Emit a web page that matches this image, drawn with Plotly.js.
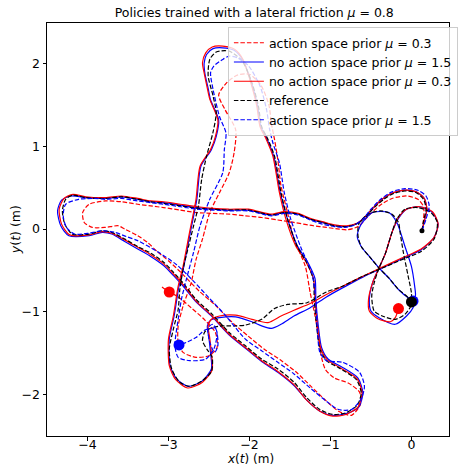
<!DOCTYPE html>
<html><head><meta charset="utf-8">
<script src="https://cdn.plot.ly/plotly-3.0.1.min.js"></script>
<style>html,body{margin:0;padding:0;background:#fff}#plot{width:459px;height:466px}</style>
</head><body><div id="plot"></div>
<script>
// Series names (legend order)
const seriesNames = [
  'action space prior <i>μ</i> = 0.3',
  'no action space prior <i>μ</i> = 1.5',
  'no action space prior <i>μ</i> = 0.3',
  'reference',
  'action space prior <i>μ</i> = 1.5'
];

// red dashed: action space prior mu=0.3
const redDashedPath = [[0.13,-0.02],[0.15,0.12],[0.15,0.27],[0.08,0.36],[-0.06,0.40],[-0.24,0.37],[-0.40,0.28],[-0.54,0.15],[-0.66,0.03],[-0.80,-0.01],[-0.89,0.0],[-1.05,0.02],[-1.21,0.04],[-1.45,0.08],[-1.65,0.11],[-1.85,0.14],[-2.05,0.16],[-2.25,0.18],[-2.45,0.19],[-2.66,0.20],[-2.86,0.23],[-3.06,0.26],[-3.22,0.28],[-3.38,0.30],[-3.58,0.33],[-3.78,0.34],[-3.98,0.30],[-4.06,0.20],[-4.04,0.08],[-3.94,0.02],[-3.78,0.02],[-3.62,0.04],[-3.54,0.0],[-3.38,-0.08],[-3.26,-0.16],[-3.14,-0.27],[-2.98,-0.40],[-2.82,-0.55],[-2.62,-0.75],[-2.42,-0.92],[-2.22,-1.12],[-2.02,-1.29],[-1.82,-1.45],[-1.62,-1.58],[-1.42,-1.73],[-1.24,-1.90],[-1.08,-2.05],[-0.90,-2.20],[-0.74,-2.25],[-0.63,-2.12],[-0.64,-1.97],[-0.78,-1.86],[-0.95,-1.80],[-1.06,-1.70],[-1.11,-1.55],[-1.14,-1.35],[-1.19,-1.05],[-1.25,-0.77],[-1.31,-0.45],[-1.45,-0.12],[-1.53,0.20],[-1.61,0.52],[-1.65,0.84],[-1.69,1.08],[-1.73,1.28],[-1.76,1.50],[-1.86,1.74],[-2.00,1.87],[-2.15,1.86],[-2.28,1.77],[-2.38,1.62],[-2.30,1.44],[-2.17,1.20],[-2.19,0.92],[-2.25,0.68],[-2.37,0.44],[-2.49,0.20],[-2.58,-0.12],[-2.66,-0.37],[-2.72,-0.65],[-2.82,-0.93],[-2.88,-1.17],[-2.88,-1.37],[-2.82,-1.49],[-2.66,-1.55],[-2.50,-1.53],[-2.40,-1.43],[-2.42,-1.25],[-2.55,-1.10],[-2.72,-0.95],[-2.88,-0.82],[-2.99,-0.76],[-3.08,-0.70]];

// blue solid: no action space prior mu=1.5
const blueSolidPath = [[0.13,-0.02],[0.16,0.10],[0.19,0.24],[0.16,0.37],[0.06,0.45],[-0.08,0.47],[-0.22,0.44],[-0.35,0.37],[-0.47,0.26],[-0.57,0.15],[-0.67,0.07],[-0.80,0.03],[-0.95,0.04],[-1.10,0.08],[-1.25,0.12],[-1.40,0.18],[-1.57,0.20],[-1.73,0.17],[-1.88,0.20],[-2.01,0.23],[-2.26,0.23],[-2.45,0.24],[-2.64,0.26],[-2.85,0.29],[-3.06,0.32],[-3.22,0.33],[-3.38,0.36],[-3.58,0.39],[-3.78,0.37],[-4.02,0.38],[-4.20,0.40],[-4.32,0.35],[-4.37,0.22],[-4.33,0.04],[-4.23,-0.08],[-3.98,-0.08],[-3.82,-0.04],[-3.70,-0.06],[-3.54,-0.15],[-3.38,-0.24],[-3.22,-0.33],[-3.06,-0.44],[-2.94,-0.56],[-2.82,-0.69],[-2.66,-0.88],[-2.46,-1.06],[-2.25,-1.28],[-2.05,-1.44],[-1.85,-1.60],[-1.65,-1.73],[-1.45,-1.89],[-1.29,-2.07],[-1.13,-2.20],[-0.97,-2.25],[-0.81,-2.23],[-0.65,-2.15],[-0.60,-1.98],[-0.66,-1.80],[-0.87,-1.66],[-1.03,-1.57],[-1.11,-1.43],[-1.15,-1.17],[-1.18,-0.85],[-1.19,-0.60],[-1.28,-0.40],[-1.41,-0.20],[-1.53,0.12],[-1.62,0.44],[-1.70,0.88],[-1.78,1.08],[-1.86,1.24],[-1.90,1.49],[-1.98,1.78],[-2.08,2.04],[-2.19,2.16],[-2.33,2.19],[-2.45,2.18],[-2.53,2.11],[-2.56,2.00],[-2.55,1.88],[-2.51,1.70],[-2.48,1.56],[-2.38,1.32],[-2.41,1.12],[-2.47,0.96],[-2.60,0.76],[-2.65,0.36],[-2.73,-0.04],[-2.81,-0.45],[-2.87,-0.69],[-2.93,-1.05],[-2.99,-1.33],[-2.98,-1.65],[-2.90,-1.81],[-2.76,-1.90],[-2.59,-1.84],[-2.47,-1.69],[-2.48,-1.50],[-2.50,-1.32],[-2.52,-1.17],[-2.48,-1.10],[-2.37,-1.07],[-2.17,-1.06],[-1.97,-1.12],[-1.85,-1.17],[-1.73,-1.20],[-1.61,-1.15],[-1.45,-1.05],[-1.25,-0.95],[-1.05,-0.82],[-0.85,-0.71],[-0.60,-0.58],[-0.36,-0.47],[-0.12,-0.36],[0.12,-0.25],[0.28,-0.10],[0.33,0.06],[0.25,0.21],[0.10,0.27],[-0.06,0.24],[-0.16,0.13],[-0.24,-0.04],[-0.32,-0.29],[-0.40,-0.47],[-0.48,-0.65],[-0.52,-0.85],[-0.50,-0.99],[-0.40,-1.07],[-0.20,-1.15],[-0.06,-1.05],[0.02,-0.95],[0.04,-0.87],[-0.04,-0.83],[-0.16,-0.73],[-0.28,-0.59],[-0.40,-0.47],[-0.52,-0.33],[-0.62,-0.21],[-0.67,-0.08],[-0.62,0.06],[-0.48,0.20],[-0.28,0.20],[-0.18,0.08],[-0.08,-0.21],[0.0,-0.45],[0.04,-0.69],[0.05,-0.80],[0.02,-0.87]];

// red solid: no action space prior mu=0.3
const redSolidPath = [[0.13,-0.02],[0.16,0.10],[0.19,0.24],[0.16,0.37],[0.06,0.45],[-0.08,0.47],[-0.22,0.44],[-0.35,0.37],[-0.47,0.26],[-0.57,0.15],[-0.67,0.07],[-0.80,0.04],[-0.95,0.05],[-1.10,0.09],[-1.25,0.13],[-1.40,0.19],[-1.57,0.21],[-1.73,0.18],[-1.88,0.21],[-2.01,0.24],[-2.26,0.24],[-2.45,0.25],[-2.64,0.27],[-2.85,0.30],[-3.06,0.33],[-3.22,0.34],[-3.38,0.37],[-3.58,0.40],[-3.78,0.38],[-4.02,0.39],[-4.18,0.42],[-4.29,0.37],[-4.35,0.24],[-4.32,0.06],[-4.22,-0.07],[-3.98,-0.07],[-3.82,-0.03],[-3.70,-0.05],[-3.54,-0.13],[-3.38,-0.22],[-3.22,-0.31],[-3.06,-0.42],[-2.94,-0.54],[-2.82,-0.67],[-2.66,-0.87],[-2.46,-1.05],[-2.25,-1.27],[-2.05,-1.43],[-1.85,-1.59],[-1.65,-1.72],[-1.45,-1.88],[-1.29,-2.07],[-1.13,-2.20],[-0.97,-2.26],[-0.81,-2.24],[-0.66,-2.15],[-0.61,-1.98],[-0.67,-1.81],[-0.89,-1.67],[-1.04,-1.58],[-1.12,-1.44],[-1.16,-1.17],[-1.19,-0.85],[-1.21,-0.60],[-1.30,-0.40],[-1.43,-0.20],[-1.55,0.12],[-1.63,0.44],[-1.71,0.88],[-1.79,1.08],[-1.87,1.24],[-1.91,1.49],[-1.99,1.79],[-2.08,2.05],[-2.18,2.17],[-2.33,2.21],[-2.46,2.20],[-2.54,2.13],[-2.58,2.01],[-2.56,1.89],[-2.52,1.70],[-2.49,1.57],[-2.39,1.32],[-2.42,1.12],[-2.48,0.96],[-2.61,0.76],[-2.66,0.36],[-2.74,-0.04],[-2.82,-0.45],[-2.88,-0.69],[-2.94,-1.05],[-3.00,-1.33],[-2.99,-1.65],[-2.91,-1.82],[-2.76,-1.92],[-2.58,-1.85],[-2.46,-1.70],[-2.47,-1.50],[-2.49,-1.32],[-2.51,-1.17],[-2.47,-1.09],[-2.37,-1.05],[-2.17,-1.04],[-1.97,-1.09],[-1.77,-1.13],[-1.61,-1.05],[-1.45,-0.98],[-1.25,-0.90],[-1.05,-0.79],[-0.85,-0.69],[-0.60,-0.57],[-0.36,-0.46],[-0.12,-0.35],[0.12,-0.24],[0.28,-0.10],[0.33,0.06],[0.26,0.21],[0.10,0.27],[-0.06,0.24],[-0.16,0.14],[-0.24,-0.04],[-0.32,-0.29],[-0.40,-0.47],[-0.48,-0.65],[-0.53,-0.85],[-0.52,-0.99],[-0.42,-1.08],[-0.26,-1.12],[-0.20,-1.07],[-0.16,-0.96]];

// black dashed: reference
const refPath = [[0.13,-0.02],[0.15,0.10],[0.18,0.24],[0.15,0.36],[0.06,0.44],[-0.08,0.46],[-0.22,0.43],[-0.34,0.36],[-0.46,0.26],[-0.56,0.15],[-0.66,0.07],[-0.80,0.03],[-0.95,0.04],[-1.10,0.08],[-1.25,0.12],[-1.40,0.18],[-1.57,0.20],[-1.73,0.17],[-1.88,0.20],[-2.01,0.23],[-2.26,0.23],[-2.45,0.24],[-2.64,0.25],[-2.85,0.28],[-3.06,0.31],[-3.22,0.33],[-3.38,0.36],[-3.58,0.39],[-3.78,0.37],[-4.02,0.38],[-4.18,0.41],[-4.27,0.36],[-4.31,0.22],[-4.28,0.06],[-4.19,-0.06],[-3.98,-0.06],[-3.82,-0.02],[-3.70,-0.04],[-3.54,-0.12],[-3.38,-0.21],[-3.22,-0.29],[-3.06,-0.40],[-2.94,-0.52],[-2.82,-0.65],[-2.66,-0.85],[-2.46,-1.03],[-2.25,-1.25],[-2.05,-1.41],[-1.85,-1.57],[-1.65,-1.69],[-1.45,-1.85],[-1.29,-2.04],[-1.13,-2.18],[-0.97,-2.24],[-0.81,-2.22],[-0.67,-2.13],[-0.62,-1.98],[-0.68,-1.82],[-0.89,-1.68],[-1.05,-1.59],[-1.13,-1.45],[-1.17,-1.17],[-1.20,-0.85],[-1.21,-0.61],[-1.29,-0.41],[-1.41,-0.21],[-1.53,0.12],[-1.61,0.44],[-1.69,0.88],[-1.77,1.08],[-1.85,1.24],[-1.89,1.49],[-1.97,1.77],[-2.09,2.03],[-2.25,2.15],[-2.41,2.14],[-2.49,2.05],[-2.51,1.85],[-2.45,1.61],[-2.41,1.41],[-2.45,1.17],[-2.53,0.88],[-2.59,0.60],[-2.63,0.28],[-2.69,0.04],[-2.75,-0.20],[-2.81,-0.44],[-2.86,-0.73],[-2.88,-0.97],[-2.94,-1.21],[-2.99,-1.45],[-2.96,-1.69],[-2.86,-1.85],[-2.74,-1.90],[-2.58,-1.83],[-2.47,-1.72],[-2.46,-1.55],[-2.52,-1.46],[-2.58,-1.35],[-2.55,-1.24],[-2.46,-1.19],[-2.33,-1.17],[-2.18,-1.17],[-2.05,-1.16],[-1.85,-1.09],[-1.69,-0.96],[-1.53,-0.91],[-1.29,-0.89],[-1.05,-0.76],[-0.85,-0.69],[-0.60,-0.57],[-0.36,-0.47],[-0.12,-0.37],[0.12,-0.27],[0.28,-0.12],[0.32,0.08],[0.24,0.20],[0.08,0.26],[-0.08,0.24],[-0.18,0.12],[-0.24,-0.04],[-0.32,-0.29],[-0.40,-0.47],[-0.46,-0.65],[-0.49,-0.81],[-0.46,-0.99],[-0.36,-1.05],[-0.20,-1.09],[-0.08,-1.03],[-0.01,-0.93],[-0.04,-0.83],[-0.16,-0.73],[-0.28,-0.59],[-0.40,-0.47],[-0.52,-0.33],[-0.62,-0.21],[-0.66,-0.08],[-0.65,0.06],[-0.54,0.18],[-0.38,0.22],[-0.24,0.18],[-0.16,0.08],[-0.14,-0.04],[-0.10,-0.28],[-0.04,-0.57],[0.0,-0.77],[0.0,-0.88]];

// blue dashed: action space prior mu=1.5
const blueDashedPath = [[0.13,-0.02],[0.18,0.12],[0.22,0.28],[0.18,0.40],[0.08,0.47],[-0.08,0.49],[-0.24,0.45],[-0.38,0.36],[-0.50,0.24],[-0.60,0.12],[-0.70,0.05],[-0.82,0.02],[-0.95,0.03],[-1.10,0.06],[-1.25,0.11],[-1.40,0.17],[-1.57,0.19],[-1.73,0.16],[-1.88,0.19],[-2.01,0.22],[-2.26,0.22],[-2.45,0.23],[-2.64,0.24],[-2.85,0.27],[-3.06,0.30],[-3.22,0.32],[-3.38,0.34],[-3.58,0.37],[-3.78,0.36],[-3.91,0.37],[-4.11,0.36],[-4.27,0.30],[-4.30,0.16],[-4.26,0.02],[-4.16,-0.06],[-3.98,-0.05],[-3.82,-0.02],[-3.66,-0.04],[-3.52,-0.09],[-3.38,-0.14],[-3.14,-0.27],[-2.90,-0.43],[-2.70,-0.62],[-2.50,-0.83],[-2.29,-1.05],[-2.05,-1.33],[-1.85,-1.47],[-1.65,-1.61],[-1.45,-1.75],[-1.25,-1.92],[-1.05,-2.08],[-0.90,-2.18],[-0.74,-2.18],[-0.62,-2.05],[-0.58,-1.90],[-0.64,-1.73],[-0.85,-1.61],[-1.05,-1.59],[-1.13,-1.49],[-1.16,-1.25],[-1.19,-0.77],[-1.23,-0.53],[-1.37,-0.21],[-1.49,0.12],[-1.57,0.44],[-1.63,0.80],[-1.71,1.04],[-1.75,1.20],[-1.79,1.45],[-1.87,1.73],[-2.01,1.97],[-2.15,2.07],[-2.25,2.09],[-2.33,2.05],[-2.44,1.97],[-2.48,1.89],[-2.45,1.69],[-2.37,1.36],[-2.29,1.16],[-2.31,0.96],[-2.33,0.68],[-2.49,0.36],[-2.61,0.04],[-2.69,-0.28],[-2.78,-0.61],[-2.84,-0.85],[-2.88,-1.09],[-2.92,-1.41],[-2.88,-1.55],[-2.74,-1.59],[-2.54,-1.57],[-2.44,-1.45],[-2.40,-1.25],[-2.45,-1.15],[-2.51,-1.19],[-2.49,-1.37],[-2.43,-1.49],[-2.39,-1.41],[-2.42,-1.20],[-2.55,-1.22],[-2.66,-1.31],[-2.78,-1.37],[-2.87,-1.40]];

// final positions and start point
const endRedDashed = [-2.99, -0.76];
const endBlueDashed = [-2.87, -1.40];
const endRedSolid = [-0.16, -0.96];
const endBlueSolid = [0.02, -0.87];
const endRef = [0.0, -0.88];
const startPoint = [0.13, -0.02];

const xTicks = [-4, -3, -2, -1, 0];
const yTicks = [-2, -1, 0, 1, 2];

function line(path, name, color, dash) {
  return {x: path.map(p => p[0]), y: path.map(p => p[1]), mode: 'lines', name: name,
    line: {color: color, width: 1.2, dash: dash, shape: 'spline', smoothing: 0.7}, hoverinfo: 'skip'};
}
function dot(pt, color, size) {
  return {x: [pt[0]], y: [pt[1]], mode: 'markers', showlegend: false,
    marker: {color: color, size: size, line: {width: 0}}, hoverinfo: 'skip'};
}
const dsh = '4.5px,2px';
const traces = [
  line(redDashedPath, seriesNames[0], '#ff0000', dsh),
  line(blueSolidPath, seriesNames[1], '#0000ff', 'solid'),
  line(redSolidPath, seriesNames[2], '#ff0000', 'solid'),
  line(refPath, seriesNames[3], '#000000', dsh),
  line(blueDashedPath, seriesNames[4], '#0000ff', dsh),
  dot(endRedDashed, '#ff0000', 11),
  dot(endBlueDashed, '#0000ff', 11),
  dot(endRedSolid, '#ff0000', 11),
  dot(endBlueSolid, '#0000ff', 11),
  dot(endRef, '#000000', 11),
  dot(startPoint, '#000000', 5)
];
const F = 'DejaVu Sans, sans-serif';
const layout = {
  width: 459, height: 466,
  margin: {l: 47, r: 1, t: 23, b: 30},
  paper_bgcolor: '#fff', plot_bgcolor: '#fff',
  font: {family: F, size: 12.5, color: '#000'},
  title: {text: 'Policies trained with a lateral friction <i>μ</i> = 0.8', x: 0.554, xanchor: 'center', y: 0.972, yanchor: 'middle', font: {family: F, size: 12.5}},
  showlegend: true,
  legend: {x: 0.45, y: 0.99, xanchor: 'left', yanchor: 'top', bgcolor: 'rgba(255,255,255,0.8)', bordercolor: '#cccccc', borderwidth: 1, font: {family: F, size: 12.5}, tracegroupgap: 0, itemwidth: 30},
  xaxis: {range: [-4.5, 0.464], tickvals: xTicks, ticks: 'outside', ticklen: 3.5, tickwidth: 1, tickcolor: '#000', showline: true, linecolor: '#000', linewidth: 1, mirror: true, showgrid: false, zeroline: false, ticklabelstandoff: -7},
  yaxis: {range: [-2.5, 2.49], tickvals: yTicks, ticks: 'outside', ticklen: 3.5, tickwidth: 1, tickcolor: '#000', showline: true, linecolor: '#000', linewidth: 1, mirror: true, showgrid: false, zeroline: false},
  annotations: [
    {text: '<i>x</i>(<i>t</i>) (m)', xref: 'paper', yref: 'paper', x: 0.505, y: -0.056, xanchor: 'center', yanchor: 'middle', showarrow: false, font: {family: F, size: 12}},
    {text: '<i>y</i>(<i>t</i>) (m)', xref: 'paper', yref: 'paper', x: -0.078, y: 0.5, xanchor: 'center', yanchor: 'middle', textangle: -90, showarrow: false, font: {family: F, size: 12.5}}
  ]
};
Plotly.newPlot('plot', traces, layout, {staticPlot: true, displayModeBar: false});
</script></body></html>
